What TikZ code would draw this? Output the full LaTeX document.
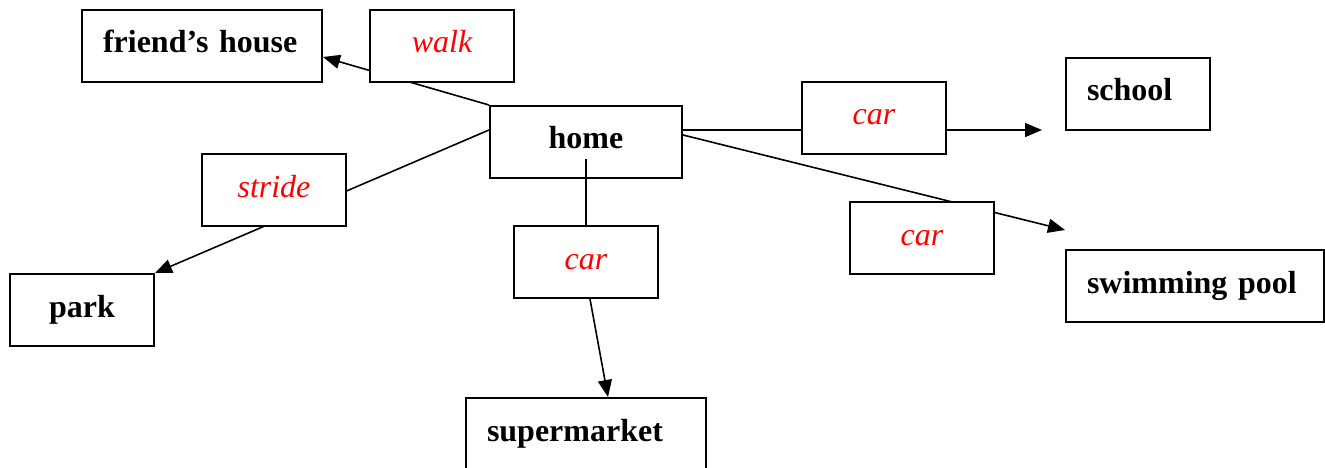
\documentclass[tikz,border=0pt]{standalone}
\usepackage{fontspec}
\setmainfont{Liberation Serif}
\usetikzlibrary{arrows.meta,backgrounds}
\tikzset{
  box/.style={draw=black, line width=2pt, fill=white, minimum height=72pt, inner sep=0pt, text height=23pt, text depth=9pt},
  place/.style={box, font=\fontsize{32pt}{38pt}\selectfont\bfseries},
  leftplace/.style={place, align=left, inner xsep=21pt},
  how/.style={box, minimum width=144pt, text=red, font=\fontsize{32pt}{38pt}\selectfont\itshape},
  link/.style={line width=1.6pt, draw=black},
  arrowlink/.style={link, -{Triangle[length=17pt,width=14pt]}}
}
\begin{document}
\begin{tikzpicture}[x=1pt,y=-1pt]
\useasboundingbox (0,0) rectangle (1325,468);
\clip (0,0) rectangle (1325,468);
% places
\node[leftplace, text width=198pt] (friend) at (202,46) {friend’s house};
\node[place, minimum width=192pt] (home) at (586,142) {home};
\node[leftplace, text width=102pt] (school) at (1138,94) {school};
\node[leftplace, text width=216pt] (pool) at (1195,286) {swimming pool};
\node[place, minimum width=144pt] (park) at (82,310) {park};
\node[leftplace, text width=198pt] (super) at (586,434) {supermarket};
% means
\node[how] (walk) at (442,46) {walk};
\node[how] (carA) at (874,118) {car};
\node[how] (stride) at (274,190) {stride};
\node[how] (carB) at (586,262) {car};
\node[how] (carC) at (922,238) {car};
% free ends
\coordinate (schoolend) at (1042,130);
\coordinate (poolend) at ([yshift=19pt]pool.north west);
% connectors behind label boxes
\begin{pgfonlayer}{background}
\draw[arrowlink] (home.north west) -- ([yshift=-11pt]friend.east);
\draw[arrowlink] ([yshift=12pt]home.west) -- (park.north east);
\draw[arrowlink] ([yshift=12pt]home.east) -- (schoolend);
\draw[arrowlink] ([yshift=7pt]home.east) -- (poolend);
\end{pgfonlayer}
\draw[link] ([yshift=-17pt]home.center) -- (carB.north);
\draw[arrowlink] ([xshift=4pt]carB.south) -- ([xshift=22pt]super.north);
\end{tikzpicture}
\end{document}
